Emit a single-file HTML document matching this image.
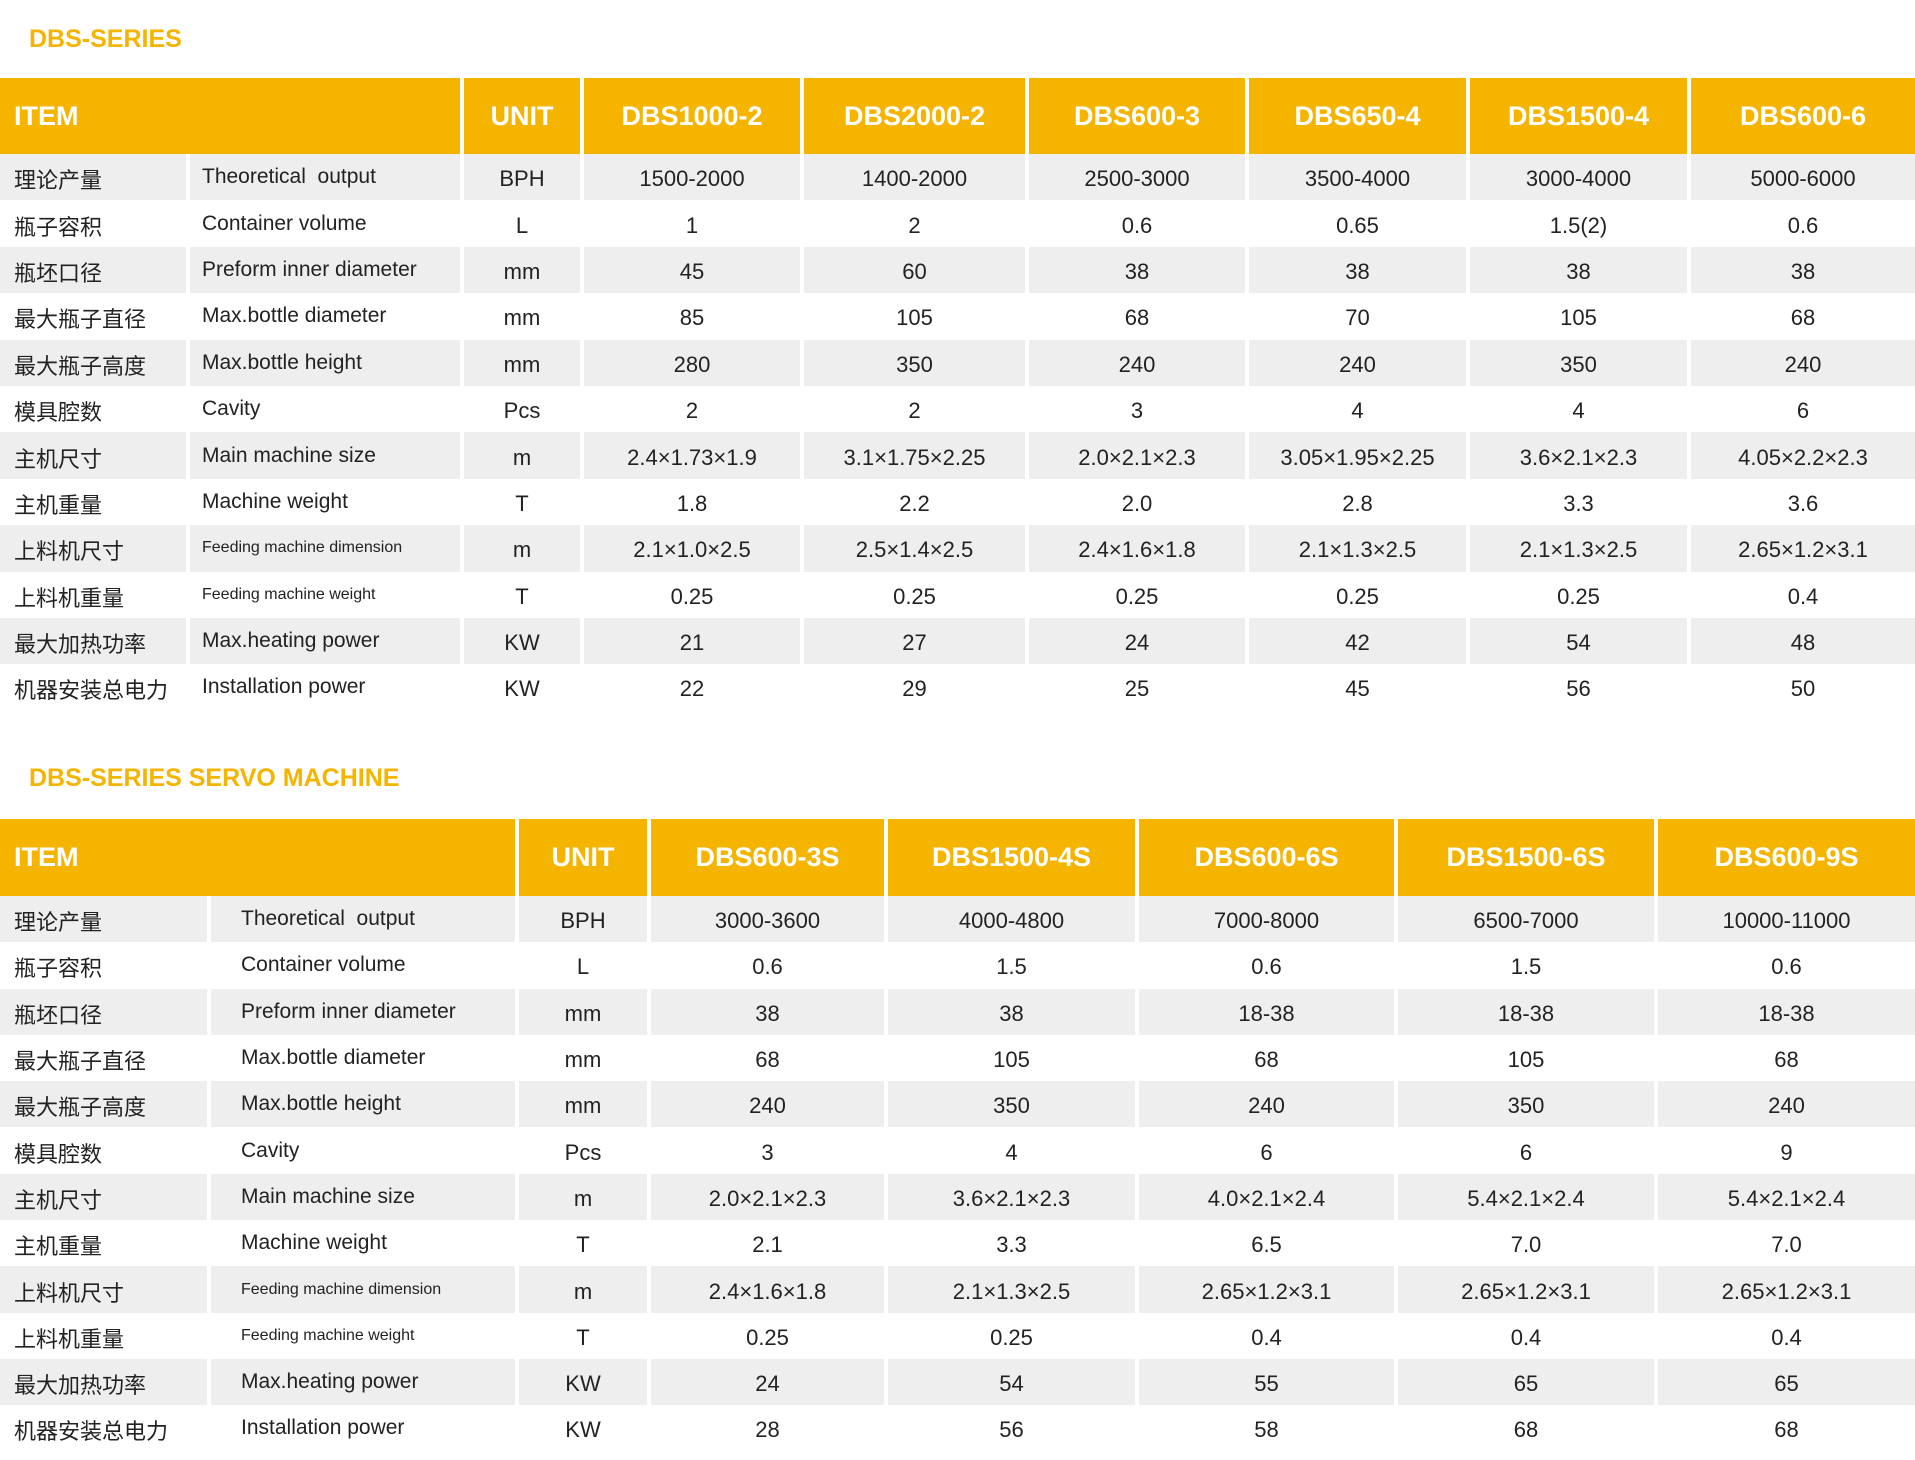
<!DOCTYPE html>
<html><head><meta charset="utf-8"><style>
*{margin:0;padding:0;box-sizing:border-box}
body{width:1915px;height:1460px;background:#fff;position:relative;overflow:hidden;font-family:"Liberation Sans","Noto Sans CJK SC",sans-serif;color:#222}
.title{position:absolute;left:29px;font-weight:bold;font-size:25px;color:#f5b400}
.t{position:absolute;left:0;display:grid;column-gap:4px}
.t div{display:flex;align-items:center;justify-content:center;font-size:22px;white-space:nowrap;padding-top:4px}
.t .h{background:#f5b400;color:#fff;font-weight:bold;font-size:27px;padding-top:0}
.t .h.l{justify-content:flex-start;padding-left:14px}
.t .g{background:#eeeeee}
.t .c{justify-content:flex-start;padding-left:14px;font-size:22px}
.t .e{justify-content:flex-start;padding-left:12px;font-size:21px;padding-top:0}
.t .s{font-size:16px}
#t1{top:78px;grid-template-columns:186px 270px 116px 216px 221px 216px 217px 217px 224px;grid-template-rows:76px repeat(12,46.4px)}
#t2{top:819px;grid-template-columns:207px 304px 128px 233px 247px 255px 256px 257px;grid-template-rows:77px repeat(12,46.3px)}
#t2 .e{padding-left:30px}
.span2{grid-column:span 2}
</style></head><body>
<div class="title" style="top:25px">DBS-SERIES</div>
<div class="t" id="t1">
<div class="h l span2">ITEM</div><div class="h">UNIT</div><div class="h">DBS1000-2</div><div class="h">DBS2000-2</div><div class="h">DBS600-3</div><div class="h">DBS650-4</div><div class="h">DBS1500-4</div><div class="h">DBS600-6</div>
<div class="g c">理论产量</div><div class="g e">Theoretical&nbsp; output</div><div class="g">BPH</div><div class="g">1500-2000</div><div class="g">1400-2000</div><div class="g">2500-3000</div><div class="g">3500-4000</div><div class="g">3000-4000</div><div class="g">5000-6000</div>
<div class="c">瓶子容积</div><div class="e">Container volume</div><div>L</div><div>1</div><div>2</div><div>0.6</div><div>0.65</div><div>1.5(2)</div><div>0.6</div>
<div class="g c">瓶坯口径</div><div class="g e">Preform inner diameter</div><div class="g">mm</div><div class="g">45</div><div class="g">60</div><div class="g">38</div><div class="g">38</div><div class="g">38</div><div class="g">38</div>
<div class="c">最大瓶子直径</div><div class="e">Max.bottle diameter</div><div>mm</div><div>85</div><div>105</div><div>68</div><div>70</div><div>105</div><div>68</div>
<div class="g c">最大瓶子高度</div><div class="g e">Max.bottle height</div><div class="g">mm</div><div class="g">280</div><div class="g">350</div><div class="g">240</div><div class="g">240</div><div class="g">350</div><div class="g">240</div>
<div class="c">模具腔数</div><div class="e">Cavity</div><div>Pcs</div><div>2</div><div>2</div><div>3</div><div>4</div><div>4</div><div>6</div>
<div class="g c">主机尺寸</div><div class="g e">Main machine size</div><div class="g">m</div><div class="g">2.4×1.73×1.9</div><div class="g">3.1×1.75×2.25</div><div class="g">2.0×2.1×2.3</div><div class="g">3.05×1.95×2.25</div><div class="g">3.6×2.1×2.3</div><div class="g">4.05×2.2×2.3</div>
<div class="c">主机重量</div><div class="e">Machine weight</div><div>T</div><div>1.8</div><div>2.2</div><div>2.0</div><div>2.8</div><div>3.3</div><div>3.6</div>
<div class="g c">上料机尺寸</div><div class="g e s">Feeding machine dimension</div><div class="g">m</div><div class="g">2.1×1.0×2.5</div><div class="g">2.5×1.4×2.5</div><div class="g">2.4×1.6×1.8</div><div class="g">2.1×1.3×2.5</div><div class="g">2.1×1.3×2.5</div><div class="g">2.65×1.2×3.1</div>
<div class="c">上料机重量</div><div class="e s">Feeding machine weight</div><div>T</div><div>0.25</div><div>0.25</div><div>0.25</div><div>0.25</div><div>0.25</div><div>0.4</div>
<div class="g c">最大加热功率</div><div class="g e">Max.heating power</div><div class="g">KW</div><div class="g">21</div><div class="g">27</div><div class="g">24</div><div class="g">42</div><div class="g">54</div><div class="g">48</div>
<div class="c">机器安装总电力</div><div class="e">Installation power</div><div>KW</div><div>22</div><div>29</div><div>25</div><div>45</div><div>56</div><div>50</div>
</div>
<div class="title" style="top:764px">DBS-SERIES SERVO MACHINE</div>
<div class="t" id="t2">
<div class="h l span2">ITEM</div><div class="h">UNIT</div><div class="h">DBS600-3S</div><div class="h">DBS1500-4S</div><div class="h">DBS600-6S</div><div class="h">DBS1500-6S</div><div class="h">DBS600-9S</div>
<div class="g c">理论产量</div><div class="g e">Theoretical&nbsp; output</div><div class="g">BPH</div><div class="g">3000-3600</div><div class="g">4000-4800</div><div class="g">7000-8000</div><div class="g">6500-7000</div><div class="g">10000-11000</div>
<div class="c">瓶子容积</div><div class="e">Container volume</div><div>L</div><div>0.6</div><div>1.5</div><div>0.6</div><div>1.5</div><div>0.6</div>
<div class="g c">瓶坯口径</div><div class="g e">Preform inner diameter</div><div class="g">mm</div><div class="g">38</div><div class="g">38</div><div class="g">18-38</div><div class="g">18-38</div><div class="g">18-38</div>
<div class="c">最大瓶子直径</div><div class="e">Max.bottle diameter</div><div>mm</div><div>68</div><div>105</div><div>68</div><div>105</div><div>68</div>
<div class="g c">最大瓶子高度</div><div class="g e">Max.bottle height</div><div class="g">mm</div><div class="g">240</div><div class="g">350</div><div class="g">240</div><div class="g">350</div><div class="g">240</div>
<div class="c">模具腔数</div><div class="e">Cavity</div><div>Pcs</div><div>3</div><div>4</div><div>6</div><div>6</div><div>9</div>
<div class="g c">主机尺寸</div><div class="g e">Main machine size</div><div class="g">m</div><div class="g">2.0×2.1×2.3</div><div class="g">3.6×2.1×2.3</div><div class="g">4.0×2.1×2.4</div><div class="g">5.4×2.1×2.4</div><div class="g">5.4×2.1×2.4</div>
<div class="c">主机重量</div><div class="e">Machine weight</div><div>T</div><div>2.1</div><div>3.3</div><div>6.5</div><div>7.0</div><div>7.0</div>
<div class="g c">上料机尺寸</div><div class="g e s">Feeding machine dimension</div><div class="g">m</div><div class="g">2.4×1.6×1.8</div><div class="g">2.1×1.3×2.5</div><div class="g">2.65×1.2×3.1</div><div class="g">2.65×1.2×3.1</div><div class="g">2.65×1.2×3.1</div>
<div class="c">上料机重量</div><div class="e s">Feeding machine weight</div><div>T</div><div>0.25</div><div>0.25</div><div>0.4</div><div>0.4</div><div>0.4</div>
<div class="g c">最大加热功率</div><div class="g e">Max.heating power</div><div class="g">KW</div><div class="g">24</div><div class="g">54</div><div class="g">55</div><div class="g">65</div><div class="g">65</div>
<div class="c">机器安装总电力</div><div class="e">Installation power</div><div>KW</div><div>28</div><div>56</div><div>58</div><div>68</div><div>68</div>
</div>
</body></html>
